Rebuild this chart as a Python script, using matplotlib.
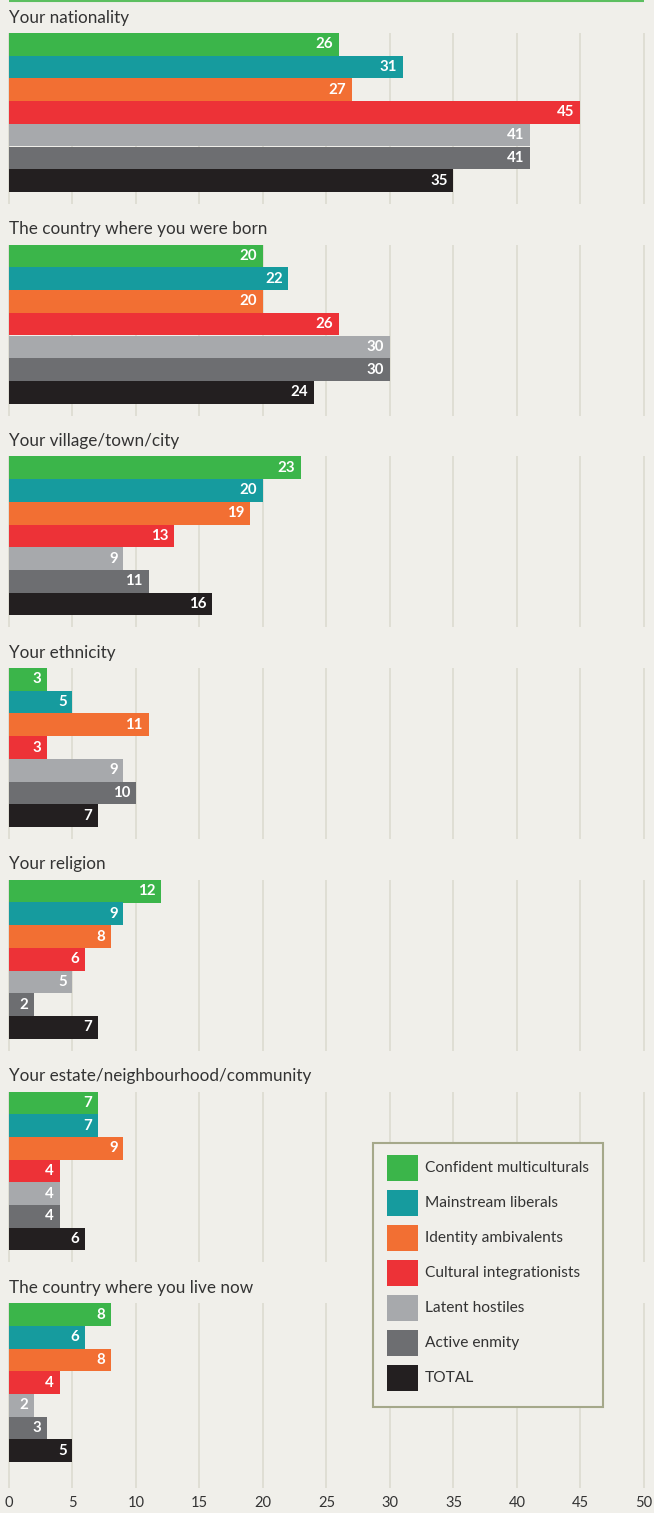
import matplotlib.pyplot as plt
from matplotlib.patches import Rectangle

# survey answers, % by segment
questions = [
    "Your nationality",
    "The country where you were born",
    "Your village/town/city",
    "Your ethnicity",
    "Your religion",
    "Your estate/neighbourhood/community",
    "The country where you live now",
]
segments = [
    "Confident multiculturals",
    "Mainstream liberals",
    "Identity ambivalents",
    "Cultural integrationists",
    "Latent hostiles",
    "Active enmity",
    "TOTAL",
]
colors = ["#3bb54a", "#169b9e", "#f26f33", "#ed3237", "#a7a9ac", "#6d6e71", "#231f20"]

values = [
    [26, 31, 27, 45, 41, 41, 35],
    [20, 22, 20, 26, 30, 30, 24],
    [23, 20, 19, 13, 9, 11, 16],
    [3, 5, 11, 3, 9, 10, 7],
    [12, 9, 8, 6, 5, 2, 7],
    [7, 7, 9, 4, 4, 4, 6],
    [8, 6, 8, 4, 2, 3, 5],
]
xticks = [0, 5, 10, 15, 20, 25, 30, 35, 40, 45, 50]

bg = "#f0efea"
grid = "#dcdbd0"
plt.rcParams["font.family"] = ["Lato", "DejaVu Sans"]

W, H = 654, 1513
fig = plt.figure(figsize=(W / 100, H / 100), dpi=100, facecolor=bg)
ax = fig.add_axes([0, 0, 1, 1])
ax.set_facecolor(bg)
ax.axis("off")

# x in data units, y in pixels from the top
x0, ppu = 9, 12.7
ax.set_xlim(-x0 / ppu, (W - x0) / ppu)
ax.set_ylim(H, 0)

bar_h = 22.7
group_step = 211.7
first_top = 33

# green rule along the top
ax.plot([0, 50], [1, 1], color="#5cbf60", lw=1.5, solid_capstyle="butt")

for g, (q, vals) in enumerate(zip(questions, values)):
    top = first_top + g * group_step
    bottom = top + bar_h * len(vals)
    grid_end = bottom + (26 if g == len(questions) - 1 else 12)
    ax.vlines(xticks, top, grid_end, colors=grid, lw=1.2, zorder=1)
    ax.text(0, top - 15.5, q, fontsize=12.3, color="#333333", ha="left", va="center")
    ys = [top + bar_h * (i + 0.5) for i in range(len(vals))]
    ax.barh(ys, vals, height=bar_h, color=colors, zorder=2)
    for y, v in zip(ys, vals):
        ax.text(v - 0.45, y, str(v), color="white", fontsize=10.8,
                fontweight="bold", ha="right", va="center", zorder=3)

# x tick labels
for t in xticks:
    ax.text(t, 1503, str(t), fontsize=10.5, color="#333333", ha="center", va="center")

# legend box
lx0, ly0, lx1, ly1 = 373, 1143, 603, 1407
box = Rectangle(((lx0 - x0) / ppu, ly0), (lx1 - lx0) / ppu, ly1 - ly0,
                facecolor=bg, edgecolor="#a5a88a", lw=1.5, zorder=4)
ax.add_patch(box)
for i, (s, c) in enumerate(zip(segments, colors)):
    cy = 1168 + 35 * i
    ax.add_patch(Rectangle(((387 - x0) / ppu, cy - 13), 31 / ppu, 26,
                           facecolor=c, edgecolor="none", zorder=5))
    ax.text((425 - x0) / ppu, cy, s, fontsize=11.2, color="#333333",
            ha="left", va="center", zorder=5)

fig.savefig("out.png", dpi=100, facecolor=bg)
